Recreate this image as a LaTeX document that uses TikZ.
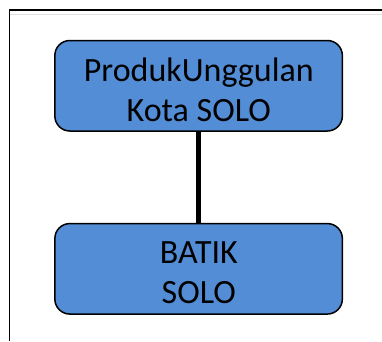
\documentclass[tikz,border=0pt]{standalone}
\usepackage{fontspec}
\setmainfont{Carlito}
\begin{document}
\begin{tikzpicture}[x=1pt,y=-1pt,
  box/.style={draw=black,line width=1.5pt,fill=boxblue,rounded corners=15pt,
    minimum width=287.5pt,minimum height=90.5pt,inner sep=0pt},
  txt/.style={anchor=base,inner sep=0pt,font=\fontsize{34}{40}\selectfont},
  link/.style={line width=5.5pt,draw=black}]
\definecolor{boxblue}{RGB}{83,141,213}
\useasboundingbox (0,0) rectangle (382,341);
\fill[white] (0,0) rectangle (382,341);
\draw[line width=1.3pt,gray!25] (10,14.5) -- (382,14.5);
\draw[line width=1.5pt] (9.5,341) -- (9.5,10) -- (382,10);
\node[box] (top) at (198.6,85.75) {};
\node[box] (bot) at (198.6,268.8) {};
\draw[link] (top.south) -- (bot.north);
\node[txt] (t1) at (198.8,81.7) {ProdukUnggulan};
\node[txt] (t2) at (198.8,121.5) {Kota SOLO};
\node[txt] (b1) at (198.8,263.3) {BATIK};
\node[txt] (b2) at (198.8,303.3) {SOLO};
\end{tikzpicture}
\end{document}
